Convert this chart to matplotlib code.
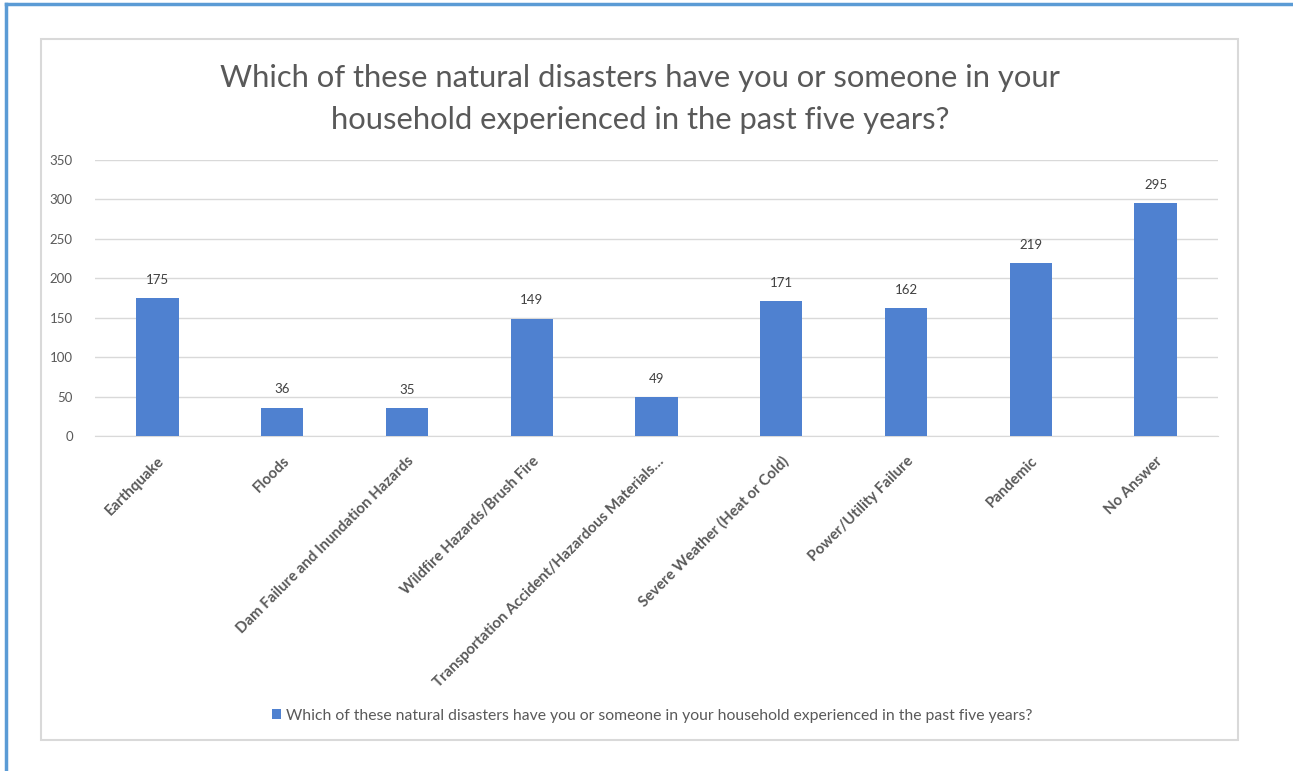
import numpy as np
import matplotlib.pyplot as plt
import matplotlib.patches as patches
from matplotlib.lines import Line2D

# data
categories = [
    'Earthquake',
    'Floods',
    'Dam Failure and Inundation Hazards',
    'Wildfire Hazards/Brush Fire',
    'Transportation Accident/Hazardous Materials…',
    'Severe Weather (Heat or Cold)',
    'Power/Utility Failure',
    'Pandemic',
    'No Answer',
]
counts = [175, 36, 35, 149, 49, 171, 162, 219, 295]
y_ticks = [0, 50, 100, 150, 200, 250, 300, 350]
series_name = ('Which of these natural disasters have you or someone in your '
               'household experienced in the past five years?')
title = ('Which of these natural disasters have you or someone in your\n'
         'household experienced in the past five years?')

bar_color = '#4f81d0'
text_gray = '#595959'
grid_gray = '#d9d9d9'

plt.rcParams['font.family'] = ['Lato', 'DejaVu Sans']

W, H = 1293, 771
fig = plt.figure(figsize=(W / 100, H / 100), dpi=100)

# outer blue frame (top and left edges)
fig.add_artist(Line2D([6 / W, 6 / W], [0, 1 - 4 / H], color='#5b9bd5', lw=2.5,
                      transform=fig.transFigure))
fig.add_artist(Line2D([6 / W, 1], [1 - 4 / H, 1 - 4 / H], color='#5b9bd5', lw=2.5,
                      transform=fig.transFigure))

# chart area border
fig.add_artist(patches.Rectangle((41 / W, 1 - 740 / H), 1197 / W, 701 / H,
                                 fill=False, edgecolor=grid_gray, lw=1.5,
                                 transform=fig.transFigure))

ax = fig.add_axes([95 / W, 1 - 436 / H, 1123 / W, 276 / H])
x = np.arange(len(categories))
bars = ax.bar(x, counts, width=0.34, color=bar_color, zorder=3, label=series_name)

ax.set_xlim(-0.5, len(categories) - 0.5)
ax.set_ylim(0, 350)
ax.set_yticks(y_ticks)
ax.set_yticklabels([str(v) for v in y_ticks], fontsize=9.5, color=text_gray)
ax.yaxis.grid(True, color=grid_gray, lw=1, zorder=0)
ax.set_axisbelow(True)
for side in ['top', 'right', 'left']:
    ax.spines[side].set_visible(False)
ax.spines['bottom'].set_color(grid_gray)
ax.tick_params(axis='both', length=0)
ax.tick_params(axis='y', pad=16)

ax.set_xticks(x)
ax.set_xticklabels(categories, rotation=45, ha='right', rotation_mode='anchor',
                   fontsize=10.8, fontweight='bold', color=text_gray)
ax.tick_params(axis='x', pad=13)

for xi, v in zip(x, counts):
    ax.annotate(str(v), (xi, v), xytext=(0, 9), textcoords='offset points',
                ha='center', va='bottom', fontsize=9.5, color='#404040')

fig.text(640 / W, 1 - 99 / H, title, ha='center', va='center', fontsize=22.3,
         color=text_gray, linespacing=1.6)

fig.legend(handles=[bars], labels=[series_name], loc='center',
           bbox_to_anchor=(652 / W, 1 - 716 / H), frameon=False, fontsize=11.3,
           handlelength=0.6, handleheight=0.6, handletextpad=0.3,
           labelcolor=text_gray)

fig.savefig('out.png', dpi=100)
